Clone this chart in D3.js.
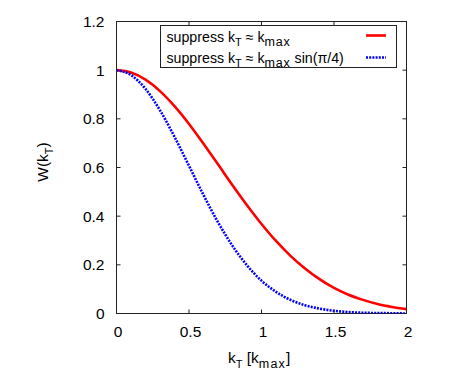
<!DOCTYPE html>
<html><head><meta charset="utf-8">
<script src="https://cdn.jsdelivr.net/npm/d3@7"></script>
<style>body{margin:0;background:#fff}svg text{font-family:"Liberation Sans",Arial,sans-serif;}</style>
</head><body>
<svg id="c" width="463" height="389"></svg>
<script>
const kT = [0,0.1,0.2,0.3,0.4,0.5,0.6,0.7,0.8,0.9,1.0,1.1,1.2,1.3,1.4,1.5,1.6,1.7,1.8,1.9,2.0];
const wMax = [1.000,0.990,0.961,0.914,0.852,0.779,0.698,0.613,0.527,0.445,0.368,0.298,0.237,0.185,0.141,0.105,0.077,0.056,0.039,0.027,0.018];
const wSin = [1.000,0.980,0.923,0.835,0.726,0.607,0.487,0.375,0.278,0.198,0.135,0.089,0.056,0.034,0.020,0.011,0.006,0.003,0.002,0.001,0.000];
const xTicks = [0,0.5,1,1.5,2];
const xTickLabels = ["0","0.5","1","1.5","2"];
const yTicks = [0,0.2,0.4,0.6,0.8,1,1.2];
const yTickLabels = ["0","0.2","0.4","0.6","0.8","1","1.2"];

const svg = d3.select("#c");
const L=116.5, R=406.5, T=21.5, B=313.5;
const x = d3.scaleLinear().domain([0,2]).range([L,R]);
const y = d3.scaleLinear().domain([0,1.2]).range([B,T]);
const fs = 15.5, lfs = 14.2, subT = 11, subM = 12.5;

// frame
svg.append("rect").attr("x",L).attr("y",T).attr("width",R-L).attr("height",B-T)
  .attr("fill","none").attr("stroke","#222").attr("stroke-width",1);

// axes ticks (inward, mirrored)
const g = svg.append("g");
const tl = 4;
xTicks.forEach((t,i)=>{
  const px = x(t);
  g.append("line").attr("x1",px).attr("x2",px).attr("y1",B).attr("y2",B-tl).attr("stroke","#222");
  g.append("line").attr("x1",px).attr("x2",px).attr("y1",T).attr("y2",T+tl).attr("stroke","#222");
  g.append("text").attr("x",px+1.5).attr("y",336.5).attr("text-anchor","middle")
    .attr("font-size",fs).text(xTickLabels[i]);
});
yTicks.forEach((t,i)=>{
  const py = y(t);
  g.append("line").attr("x1",L).attr("x2",L+tl).attr("y1",py).attr("y2",py).attr("stroke","#222");
  g.append("line").attr("x1",R).attr("x2",R-tl).attr("y1",py).attr("y2",py).attr("stroke","#222");
  g.append("text").attr("x",104.5).attr("y",py+5.5).attr("text-anchor","end")
    .attr("font-size",fs).text(yTickLabels[i]);
});

// axis labels
const xl = svg.append("text").attr("x",228).attr("y",363).attr("font-size",fs);
xl.append("tspan").text("k");
xl.append("tspan").attr("font-size",subT).attr("dy",4.5).text("T");
xl.append("tspan").attr("dy",-4.5).text(" [k");
xl.append("tspan").attr("font-size",subM).attr("letter-spacing",1.2).attr("dy",4.5).text("max");
xl.append("tspan").attr("dy",-4.5).text("]");

const yl = svg.append("text").attr("transform","translate(48,162) rotate(-90)").attr("text-anchor","middle").attr("font-size",fs);
yl.append("tspan").text("W(k");
yl.append("tspan").attr("font-size",subT).attr("dy",4.5).text("T");
yl.append("tspan").attr("dy",-4.5).text(")");

// curves
const pts1 = kT.map((k,i)=>[k,wMax[i]]);
const pts2 = kT.map((k,i)=>[k,wSin[i]]);
const line = d3.line().x(d=>x(d[0])).y(d=>y(d[1])).curve(d3.curveMonotoneX);
svg.append("clipPath").attr("id","cp").append("rect").attr("x",L).attr("y",T).attr("width",R-L).attr("height",B-T);
svg.append("path").attr("d",line(pts1)).attr("fill","none").attr("stroke","#ff0000").attr("stroke-width",2.6).attr("clip-path","url(#cp)");
svg.append("path").attr("d",line(pts2)).attr("fill","none").attr("stroke","#0000ff").attr("stroke-width",2.6).attr("stroke-dasharray","2,1.2").attr("clip-path","url(#cp)");

// legend
svg.append("rect").attr("x",160.5).attr("y",25.5).attr("width",236).attr("height",42)
  .attr("fill","#fff").attr("stroke","#222").attr("stroke-width",1);
function legText(yb, withSin){
  const t = svg.append("text").attr("x",166.5).attr("y",yb).attr("font-size",lfs);
  t.append("tspan").text("suppress k");
  t.append("tspan").attr("font-size",subT).attr("dy",4.5).text("T");
  t.append("tspan").attr("dy",-4.5).text(" ≈ k");
  t.append("tspan").attr("font-size",subM).attr("letter-spacing",0.8).attr("dy",4.5).text("max");
  if(withSin) t.append("tspan").attr("dy",-4.5).text(" sin(π/4)");
}
legText(41.5,false);
legText(62.5,true);
svg.append("line").attr("x1",366).attr("x2",386).attr("y1",35.5).attr("y2",35.5).attr("stroke","#ff0000").attr("stroke-width",2.6);
svg.append("line").attr("x1",366).attr("x2",386).attr("y1",57.5).attr("y2",57.5).attr("stroke","#0000ff").attr("stroke-width",2.6).attr("stroke-dasharray","2,1.2");
</script>
</body></html>
